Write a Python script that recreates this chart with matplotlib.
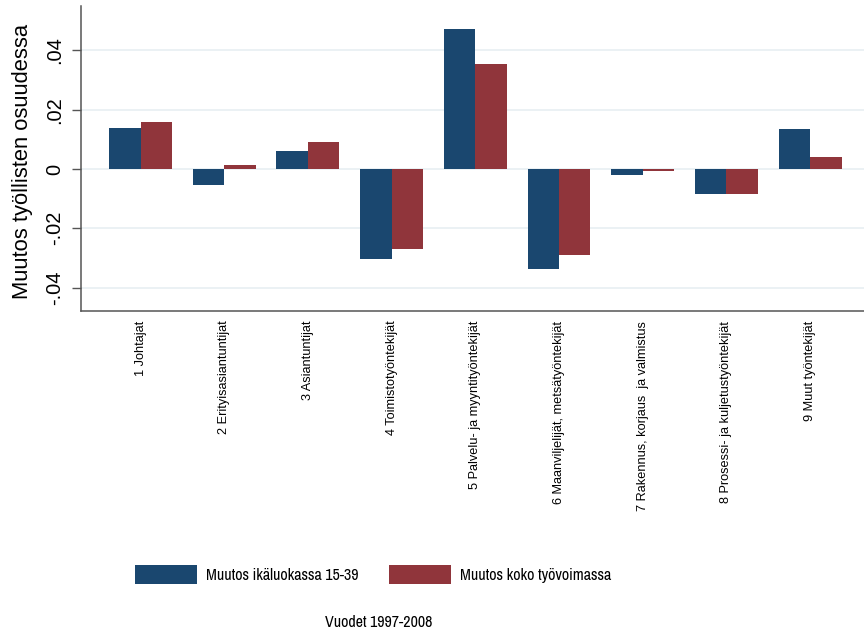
import numpy as np
import matplotlib
matplotlib.use("Agg")
import matplotlib.pyplot as plt
from matplotlib import font_manager
from matplotlib.patches import Patch

categories = [
    "1 Johtajat",
    "2 Erityisasiantuntijat",
    "3 Asiantuntijat",
    "4 Toimistotyöntekijät",
    "5 Palvelu- ja myyntityöntekijät",
    "6 Maanviljelijät, metsätyöntekijät",
    "7 Rakennus, korjaus  ja valmistus",
    "8 Prosessi- ja kuljetustyöntekijät",
    "9 Muut työntekijät",
]
young = [0.0137, -0.0054, 0.0062, -0.0305, 0.0472, -0.0338, -0.0020, -0.0084, 0.0134]
total = [0.0158, 0.0012, 0.0091, -0.0271, 0.0354, -0.0290, -0.0008, -0.0084, 0.0039]
series_names = ["Muutos ikäluokassa 15-39", "Muutos koko työvoimassa"]
yticks = [-0.04, -0.02, 0, 0.02, 0.04]
yticklabels = ["-.04", "-.02", "0", ".02", ".04"]
ylabel = "Muutos työllisten osuudessa"
caption = "Vuodet 1997-2008"

navy = "#1a476f"
maroon = "#90353b"

names = {f.name for f in font_manager.fontManager.ttflist}
base = "Liberation Sans" if "Liberation Sans" in names else "DejaVu Sans"
narrow, nsize = base, 9.8
for cand, sz in [("Liberation Sans Narrow", 11.7), ("Arial Narrow", 11.7),
                 ("Archivo Narrow", 11.5), ("Roboto Condensed", 11.6)]:
    if cand in names:
        narrow, nsize = cand, sz
        break

fig = plt.figure(figsize=(8.64, 6.34), dpi=100)
ax = fig.add_axes([81/864, 1-311/634, 1-81/864, (311-6)/634])

x = np.arange(len(categories))
w = 0.376
ax.bar(x - w/2, young, w, color=navy, zorder=3, linewidth=0)
ax.bar(x + w/2, total, w, color=maroon, zorder=3, linewidth=0)

ax.set_xlim(-0.711, 8.644)
ax.set_ylim(-0.0479, 0.0550)
ax.set_yticks(yticks)
ax.set_yticklabels(yticklabels, rotation=90, va="center", fontsize=14.4, family=base)
ax.set_xticks(x)
ax.set_xticklabels(categories, rotation=90, va="top", ha="center", fontsize=9.2, family=base)
ax.tick_params(axis="x", length=0, pad=7)
ax.tick_params(axis="y", length=6.8, width=1.0, color="#555555", pad=5)
ax.grid(axis="y", color="#e6eef1", linewidth=1.1, zorder=0)
for s in ["top", "right"]:
    ax.spines[s].set_visible(False)
for s in ["left", "bottom"]:
    ax.spines[s].set_color("#555555")
    ax.spines[s].set_linewidth(1.1)

ax.set_ylabel(ylabel, fontsize=15.8, family=base)
ax.yaxis.set_label_coords(-0.061, 0.49)

handles = [Patch(facecolor=navy, edgecolor="none"), Patch(facecolor=maroon, edgecolor="none")]
fig.legend(handles, series_names, loc="center", bbox_to_anchor=(373/864, 1-574.7/634),
           ncol=2, frameon=False, prop={"family": narrow, "size": nsize},
           handlelength=3.82*11.7/nsize, handleheight=1.41*11.7/nsize,
           handletextpad=0.57*11.7/nsize, columnspacing=1.85*11.7/nsize, borderpad=0)

fig.text(379/864, 1-622.5/634, caption, ha="center", va="center", family=narrow, fontsize=nsize)

fig.savefig("out.png", dpi=100, facecolor="white")
